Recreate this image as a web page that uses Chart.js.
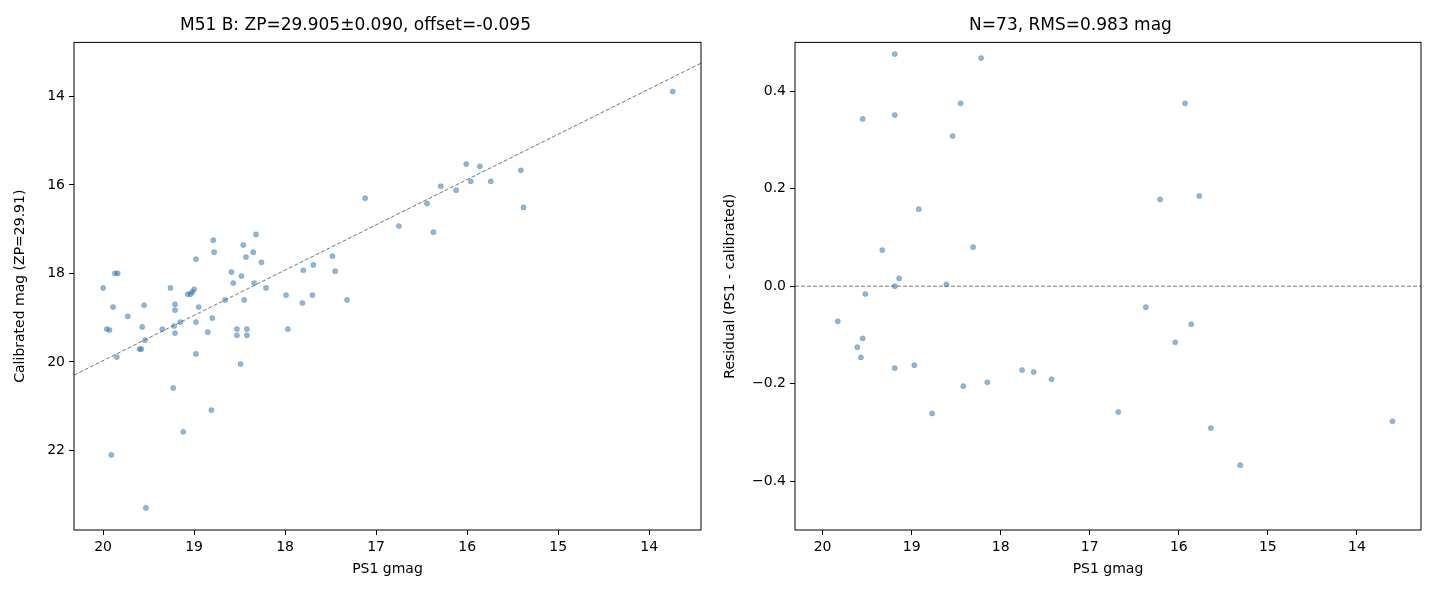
<!DOCTYPE html>
<html>
<head>
<meta charset="utf-8">
<script src="https://cdn.jsdelivr.net/npm/chart.js@4.4.0/dist/chart.umd.min.js"></script>
<style>
  body { margin: 0; background: #fff; }
  .panel { position: absolute; top: 0; width: 720px; height: 600px; }
</style>
</head>
<body>
<div class="panel" style="left:0"><canvas id="calChart"></canvas></div>
<div class="panel" style="left:720px"><canvas id="resChart"></canvas></div>
<script>
// ─── Data ────────────────────────────────────────────────────────────────
const calG = [20.00,19.96,19.93,19.91,19.89,19.87,19.84,19.85,19.73,19.60,19.58,19.57,19.55,19.54,19.53,
  19.35,19.26,19.23,19.22,19.21,19.21,19.21,19.15,19.12,19.07,19.04,19.02,19.00,18.98,18.98,18.98,18.95,
  18.85,18.81,18.80,18.79,18.78,18.66,18.59,18.57,18.53,18.53,18.49,18.48,18.46,18.45,18.43,18.42,18.42,
  18.35,18.34,18.32,18.26,18.21,17.99,17.97,17.80,17.81,17.70,17.69,17.48,17.45,17.32,17.12,16.75,16.44,
  16.37,16.29,16.12,16.01,15.96,15.86,15.74,15.41,15.38,13.74];
const calMag = [18.33,19.26,19.28,22.10,18.76,18.00,18.00,19.89,18.97,19.71,19.71,19.21,18.72,19.51,23.30,
  19.26,18.33,20.59,19.19,18.70,18.83,19.35,19.10,21.58,18.47,18.47,18.42,18.36,17.68,19.10,19.82,18.76,
  19.33,21.09,19.01,17.25,17.52,18.60,17.97,18.22,19.26,19.40,20.05,18.06,17.36,18.60,17.63,19.26,19.40,
  17.52,18.22,17.12,17.75,18.33,18.49,19.26,17.93,18.67,18.49,17.81,17.61,17.95,18.60,16.30,16.93,16.42,
  17.07,16.03,16.12,15.53,15.92,15.58,15.92,15.67,16.51,13.89];
const fitG = [20.32, 13.43];
const fitMag = [20.30, 13.25];

const resG = [19.83,19.61,19.57,19.55,19.55,19.52,19.33,19.19,19.19,19.19,19.19,19.14,18.97,18.92,18.77,
  18.61,18.54,18.45,18.42,18.31,18.22,18.15,17.76,17.63,17.43,16.68,16.37,16.21,16.04,15.93,15.86,15.77,
  15.64,15.31,13.60];
const resVal = [-0.072,-0.125,-0.146,0.343,-0.107,-0.016,0.074,0.476,0.351,0.000,-0.168,0.016,-0.162,0.158,-0.261,
  0.004,0.308,0.375,-0.205,0.080,0.468,-0.197,-0.172,-0.176,-0.191,-0.258,-0.043,0.178,-0.115,0.375,-0.078,0.185,
  -0.291,-0.367,-0.277];
const zeroG = [20.31, 13.28];
const zeroVal = [0, 0];

const gTicks = [20, 19, 18, 17, 16, 15, 14];
const magTicks = [14, 16, 18, 20, 22];
const resTicks = [-0.4, -0.2, 0.0, 0.2, 0.4];

const FONT = "'DejaVu Sans', sans-serif";
const POINT = 'rgba(40,110,170,0.5)';
Chart.defaults.font.family = FONT;
Chart.defaults.color = '#000';

const boxPlugin = {
  id: 'box',
  afterDraw(chart) {
    const { ctx, chartArea: a } = chart;
    ctx.save();
    ctx.strokeStyle = '#000';
    ctx.lineWidth = 1;
    ctx.strokeRect(a.left, a.top, a.right - a.left, a.bottom - a.top);
    ctx.restore();
  },
};

const minus = (s) => String(s).replace('-', '\u2212');

function axis(min, max, ticks, title, fmt, size, reverse) {
  return {
    type: 'linear', min, max, reverse,
    afterBuildTicks: (ax) => { ax.ticks = ticks.map((v) => ({ value: v })); },
    afterFit: (ax) => { if (ax.isHorizontal()) ax.height = size; else ax.width = size; },
    grid: { drawOnChartArea: false, color: '#000', tickLength: 5 },
    border: { display: false },
    ticks: { color: '#000', font: { size: 14 }, padding: 4, maxRotation: 0, callback: fmt },
    title: { display: true, text: title, color: '#000', font: { size: 14 }, padding: 2 },
  };
}

function pts(xs, ys) { return xs.map((x, i) => ({ x, y: ys[i] })); }

function makeChart(id, title, scatter, line, xs, ys) {
  return new Chart(document.getElementById(id), {
    type: 'scatter',
    data: {
      datasets: [
        { data: scatter, pointRadius: 2.6, pointBackgroundColor: POINT, pointBorderColor: POINT, pointBorderWidth: 0.5 },
        { type: 'line', data: line, borderColor: '#777', borderWidth: 1, borderDash: [4, 2], pointRadius: 0, fill: false },
      ],
    },
    options: {
      responsive: true, maintainAspectRatio: false, animation: false,
      layout: { padding: { left: id === 'calChart' ? 10 : 0, right: 19, top: 0, bottom: 20 } },
      plugins: {
        legend: { display: false }, tooltip: { enabled: false },
        title: { display: true, text: title, color: '#000', font: { size: 17, weight: 'normal' }, padding: { top: 15, bottom: 7 } },
      },
      scales: { x: xs, y: ys },
    },
    plugins: [boxPlugin],
  });
}

makeChart('calChart', 'M51 B: ZP=29.905\u00b10.090, offset=-0.095',
  pts(calG, calMag), pts(fitG, fitMag),
  axis(13.43, 20.32, gTicks, 'PS1 gmag', (v) => v, 50, true),
  axis(12.78, 23.8, magTicks, 'Calibrated mag (ZP=29.91)', (v) => v, 64, true));

makeChart('resChart', 'N=73, RMS=0.983 mag',
  pts(resG, resVal), pts(zeroG, zeroVal),
  axis(13.28, 20.31, gTicks, 'PS1 gmag', (v) => v, 50, true),
  axis(-0.5, 0.5, resTicks, 'Residual (PS1 - calibrated)', (v) => minus(v.toFixed(1)), 75, false));
</script>
</body>
</html>
